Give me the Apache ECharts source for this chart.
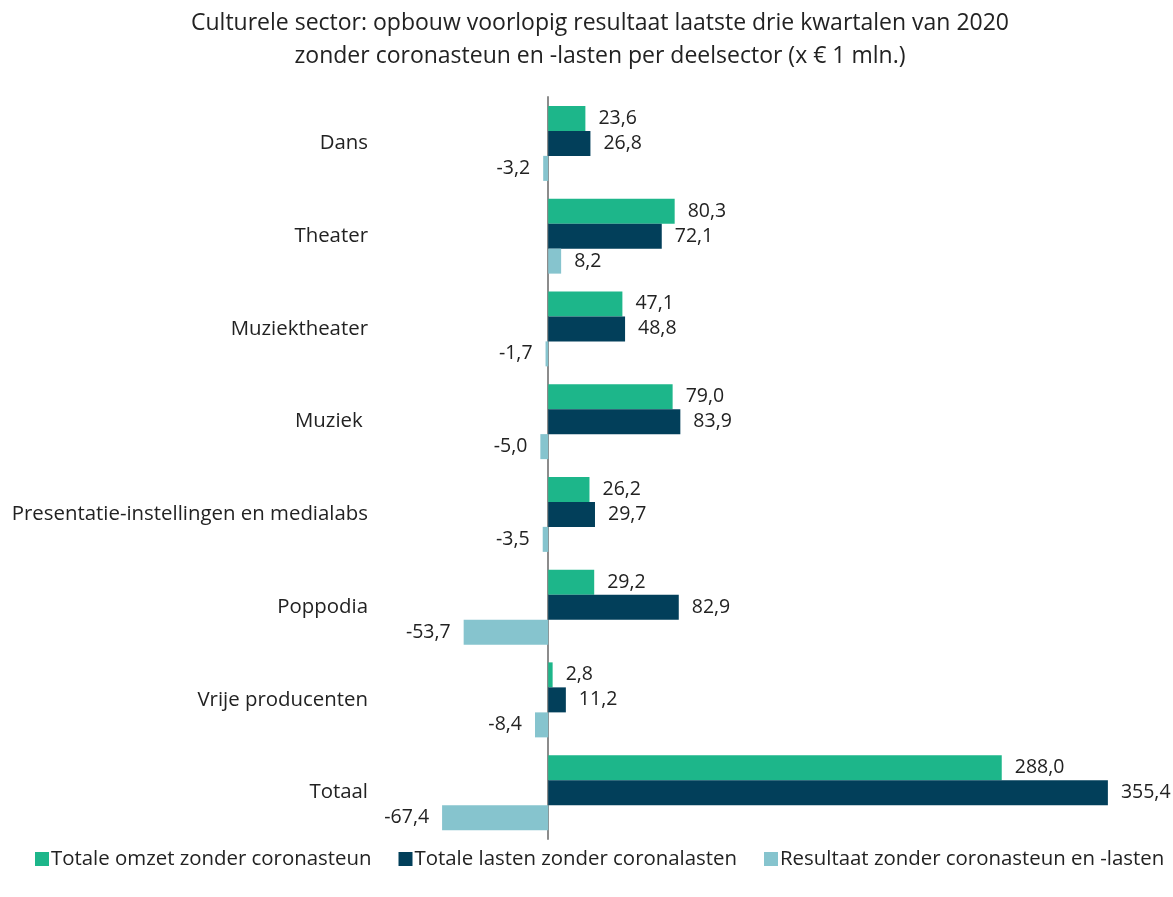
<!DOCTYPE html>
<html>
<head>
<meta charset="utf-8">
<script src="https://cdn.jsdelivr.net/npm/echarts@6/dist/echarts.min.js"></script>
<style>html,body{margin:0;padding:0;background:#fff}#c{width:1173px;height:897px}</style>
</head>
<body>
<div id="c"></div>
<script>
const categories = ['Dans', 'Theater', 'Muziektheater', 'Muziek ', 'Presentatie-instellingen en medialabs', 'Poppodia', 'Vrije producenten', 'Totaal'];
const seriesNames = ['Totale omzet zonder coronasteun', 'Totale lasten zonder coronalasten', 'Resultaat zonder coronasteun en -lasten'];
const omzet = [23.6, 80.3, 47.1, 79.0, 26.2, 29.2, 2.8, 288.0];
const lasten = [26.8, 72.1, 48.8, 83.9, 29.7, 82.9, 11.2, 355.4];
const resultaat = [-3.2, 8.2, -1.7, -5.0, -3.5, -53.7, -8.4, -67.4];
const colors = ['#1db68a', '#023f5a', '#86c4ce'];
const titleText = 'Culturele sector: opbouw voorlopig resultaat laatste drie kwartalen van 2020\nzonder coronasteun en -lasten per deelsector (x € 1 mln.)';

const FONT = 'Open Sans';
function fmt(v){ return v.toFixed(1).replace('.', ','); }
function mk(vals){
  return vals.map(v => ({value: v, label: {position: v < 0 ? 'left' : 'right'}}));
}
const chart = echarts.init(document.getElementById('c'));
chart.setOption({
  animation: false,
  color: colors,
  textStyle: {fontFamily: FONT},
  title: {
    text: titleText,
    left: 595,
    textAlign: 'center',
    top: 2,
    textStyle: {fontFamily: FONT, fontSize: 23, fontWeight: 'normal', color: '#222', lineHeight: 33}
  },
  legend: {
    bottom: 28,
    left: 35,
    width: 1136,
    padding: 0,
    icon: 'rect',
    itemWidth: 14,
    itemHeight: 14,
    itemGap: 27,
    textStyle: {fontFamily: FONT, fontSize: 20.4, color: '#222', padding: [0,0,0,-3]},
    data: seriesNames
  },
  grid: {left: 375, right: 50, top: 97, bottom: 58, outerBoundsMode: 'none', containLabel: false},
  xAxis: {
    type: 'value',
    min: -110,
    max: 365,
    axisLabel: {show: false},
    splitLine: {show: false},
    axisLine: {show: false},
    axisTick: {show: false}
  },
  yAxis: {
    type: 'category',
    inverse: true,
    data: categories,
    axisLine: {onZero: true, lineStyle: {color: '#8c8c8c', width: 2}},
    axisTick: {show: false},
    axisLabel: {margin: 7, fontFamily: FONT, fontSize: 20.4, color: '#222'}
  },
  series: [omzet, lasten, resultaat].map((vals, i) => ({
    name: seriesNames[i],
    type: 'bar',
    data: mk(vals),
    barWidth: 25,
    barGap: '0%',
    barCategoryGap: '19%',
    z: 1,
    label: {
      show: true,
      distance: 13,
      fontFamily: FONT,
      fontSize: 19.5,
      color: '#222',
      formatter: p => fmt(p.value)
    }
  }))
});
</script>
</body>
</html>
